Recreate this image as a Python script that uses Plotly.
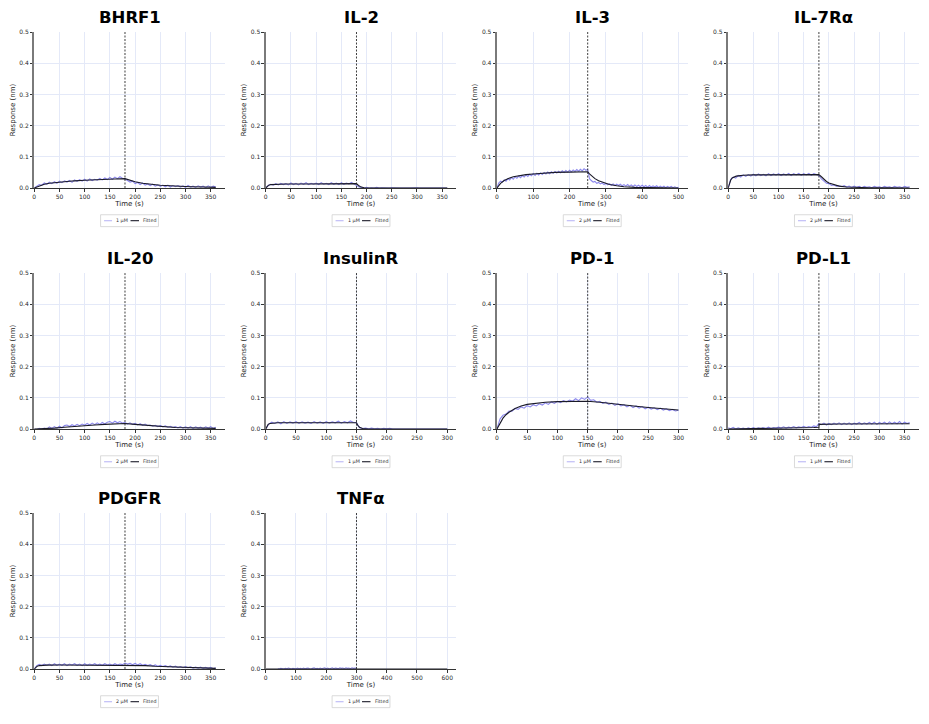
import numpy as np
import plotly.graph_objects as go

# ---------------- data ----------------
names = ["BHRF1", "IL-2", "IL-3", "IL-7Rα", "IL-20", "InsulinR", "PD-1", "PD-L1", "PDGFR", "TNFα"]
conc_labels = ["1 µM", "1 µM", "2 µM", "2 µM", "2 µM", "1 µM", "1 µM", "1 µM", "2 µM", "1 µM"]
assoc_end = [180, 180, 250, 180, 180, 150, 150, 180, 180, 300]
t_end = [360, 360, 500, 360, 360, 300, 300, 360, 360, 600]
raw_start = [0, 0, 0, 0, 0, 0, 0, 0, 0, 40]
raw_stop = [360, 360, 500, 360, 360, 300, 300, 360, 360, 300]
x_dtick = [50, 50, 100, 50, 50, 50, 50, 50, 50, 100]
y_ticks = [0.0, 0.1, 0.2, 0.3, 0.4, 0.5]

raw_bhrf1 = [0.000, 0.006, 0.011, 0.009, 0.016, 0.012, 0.019, 0.014, 0.020, 0.015,
             0.022, 0.017, 0.023, 0.019, 0.024, 0.018, 0.026, 0.021, 0.027, 0.022,
             0.028, 0.022, 0.029, 0.024, 0.028, 0.025, 0.031, 0.026, 0.032, 0.027,
             0.034, 0.028, 0.035, 0.030, 0.036, 0.031,
             0.029, 0.024, 0.019, 0.022, 0.014, 0.018, 0.011, 0.016, 0.009, 0.013,
             0.008, 0.012, 0.006, 0.010, 0.005, 0.009, 0.004, 0.009, 0.003, 0.008,
             0.004, 0.008, 0.003, 0.007, 0.002, 0.008, 0.003, 0.006, 0.002, 0.007,
             0.003, 0.006, 0.001, 0.007, 0.002, 0.006, 0.003]
fit_t_bhrf1 = [0, 10, 20, 30, 40, 60, 80, 100, 120, 140, 160, 180, 190, 200, 215, 230, 250, 270, 290, 310, 335, 360]
fit_y_bhrf1 = [0, 0.007, 0.012, 0.015, 0.017, 0.020, 0.023, 0.025, 0.027, 0.028, 0.029, 0.030, 0.024,
               0.020, 0.015, 0.012, 0.009, 0.007, 0.005, 0.004, 0.003, 0.002]

raw_il2 = [0.000, 0.008, 0.012, 0.009, 0.014, 0.010, 0.015, 0.011, 0.014, 0.010,
           0.016, 0.011, 0.015, 0.010, 0.016, 0.012, 0.017, 0.011, 0.015, 0.012,
           0.016, 0.011, 0.017, 0.012, 0.015, 0.011, 0.017, 0.012, 0.016, 0.011,
           0.017, 0.012, 0.016, 0.013, 0.018, 0.013,
           0.010, 0.003, 0.002, 0.000, 0.002, 0.000, 0.001, 0.000, 0.002, 0.000,
           0.001, 0.000, 0.001, 0.000, 0.001, 0.000, 0.001, 0.000, 0.000, 0.001,
           0.000, 0.000, 0.001, 0.000, 0.001, 0.000, 0.000, 0.001, 0.000, 0.000,
           0.001, 0.000, 0.000, 0.001, 0.000, 0.001, 0.000]
fit_t_il2 = [0, 3, 6, 10, 20, 40, 80, 120, 180, 184, 188, 195, 210, 360]
fit_y_il2 = [0, 0.006, 0.009, 0.011, 0.012, 0.013, 0.013, 0.014, 0.014, 0.008, 0.004, 0.001, 0.0, 0.0]

raw_il3 = [0.000, 0.016, 0.022, 0.019, 0.026, 0.022, 0.030, 0.026, 0.033, 0.028,
           0.036, 0.031, 0.038, 0.033, 0.040, 0.035, 0.042, 0.037, 0.044, 0.039,
           0.046, 0.040, 0.047, 0.042, 0.048, 0.043, 0.050, 0.045, 0.051, 0.046,
           0.052, 0.047, 0.053, 0.048, 0.054, 0.049, 0.055, 0.050, 0.056, 0.051,
           0.057, 0.052, 0.058, 0.053, 0.059, 0.054, 0.060, 0.055, 0.062, 0.057,
           0.060, 0.030, 0.024, 0.019, 0.021, 0.015, 0.018, 0.013, 0.016, 0.011,
           0.015, 0.010, 0.014, 0.009, 0.013, 0.008, 0.012, 0.008, 0.012, 0.007,
           0.011, 0.006, 0.011, 0.006, 0.010, 0.005, 0.010, 0.005, 0.009, 0.004,
           0.009, 0.004, 0.008, 0.003, 0.008, 0.003, 0.007, 0.003, 0.007, 0.002,
           0.006, 0.002, 0.006, 0.001, 0.005, 0.002, 0.005, 0.001, 0.004, 0.001,
           0.002]
fit_t_il3 = [0, 10, 20, 30, 45, 60, 80, 100, 130, 160, 200, 250, 255, 260, 270, 280, 295, 310, 330, 350, 380, 420, 500]
fit_y_il3 = [0, 0.015, 0.024, 0.030, 0.036, 0.040, 0.043, 0.045, 0.048, 0.050, 0.051, 0.052, 0.045,
             0.039, 0.030, 0.023, 0.016, 0.011, 0.007, 0.004, 0.002, 0.001, 0.0]

raw_il7ra = [0.000, 0.028, 0.035, 0.032, 0.040, 0.035, 0.042, 0.037, 0.043, 0.038,
             0.044, 0.039, 0.045, 0.040, 0.044, 0.039, 0.046, 0.040, 0.045, 0.041,
             0.046, 0.040, 0.045, 0.041, 0.047, 0.040, 0.046, 0.042, 0.047, 0.041,
             0.046, 0.042, 0.047, 0.041, 0.046, 0.042,
             0.040, 0.029, 0.023, 0.015, 0.014, 0.008, 0.010, 0.005, 0.008, 0.004,
             0.008, 0.003, 0.006, 0.002, 0.006, 0.002, 0.005, 0.001, 0.005, 0.002,
             0.004, 0.001, 0.005, 0.002, 0.004, 0.001, 0.005, 0.002, 0.004, 0.001,
             0.005, 0.002, 0.004, 0.001, 0.005, 0.002, 0.004]
fit_t_il7ra = [0, 2, 5, 8, 12, 16, 20, 30, 50, 100, 180, 185, 190, 195, 200, 210, 220, 235, 250, 280, 320, 360]
fit_y_il7ra = [0, 0.012, 0.025, 0.032, 0.036, 0.038, 0.039, 0.041, 0.042, 0.043, 0.043, 0.036, 0.028,
               0.021, 0.016, 0.010, 0.006, 0.003, 0.002, 0.001, 0.0005, 0.0]

raw_il20 = [0.000, -0.002, 0.002, -0.001, 0.003, 0.000, 0.007, 0.002, 0.008, 0.003,
            0.009, 0.004, 0.011, 0.013, 0.008, 0.014, 0.010, 0.015, 0.011, 0.016,
            0.012, 0.018, 0.013, 0.019, 0.014, 0.020, 0.015, 0.021, 0.016, 0.022,
            0.024, 0.019, 0.025, 0.020, 0.024, 0.019,
            0.021, 0.016, 0.020, 0.015, 0.018, 0.013, 0.017, 0.012, 0.016, 0.011,
            0.013, 0.009, 0.012, 0.008, 0.011, 0.007, 0.010, 0.006, 0.009, 0.005,
            0.008, 0.004, 0.008, 0.003, 0.007, 0.003, 0.008, 0.002, 0.007, 0.003,
            0.006, 0.002, 0.007, 0.003, 0.008, 0.002, 0.006]
fit_t_il20 = [0, 20, 40, 60, 80, 100, 120, 140, 160, 180, 200, 220, 240, 260, 280, 300, 330, 360]
fit_y_il20 = [0, 0.001, 0.003, 0.006, 0.009, 0.011, 0.013, 0.015, 0.017, 0.018, 0.015, 0.012, 0.009,
              0.007, 0.005, 0.004, 0.003, 0.002]

raw_insr = [0.000, 0.016, 0.022, 0.018, 0.023, 0.017, 0.024, 0.018, 0.023, 0.019,
            0.024, 0.018, 0.023, 0.019, 0.022, 0.018, 0.024, 0.019, 0.023, 0.018,
            0.024, 0.019, 0.023, 0.020, 0.025, 0.019, 0.024, 0.020, 0.026, 0.021,
            0.020, 0.004, 0.002, 0.003, 0.001, 0.003, 0.001, 0.002, 0.000, 0.002,
            0.001, 0.002, 0.000, 0.001, 0.000, 0.000, 0.000, 0.000, 0.000, 0.000,
            0.000, 0.000, 0.000, 0.000, 0.000, 0.000, 0.000, 0.000, 0.000, 0.000,
            0.000]
fit_t_insr = [0, 2, 4, 7, 10, 20, 50, 100, 150, 152, 155, 160, 170, 300]
fit_y_insr = [0, 0.010, 0.015, 0.018, 0.019, 0.020, 0.020, 0.020, 0.020, 0.012, 0.006, 0.002, 0.0, 0.0]

raw_pd1 = [0.000, 0.032, 0.044, 0.048, 0.058, 0.057, 0.066, 0.063, 0.071, 0.067,
           0.075, 0.071, 0.078, 0.074, 0.081, 0.077, 0.084, 0.079, 0.087, 0.082,
           0.089, 0.085, 0.091, 0.087, 0.093, 0.089, 0.097, 0.091, 0.100, 0.095,
           0.103, 0.092, 0.094, 0.086, 0.089, 0.082, 0.086, 0.079, 0.083, 0.076,
           0.081, 0.074, 0.078, 0.071, 0.076, 0.069, 0.074, 0.067, 0.072, 0.065,
           0.070, 0.064, 0.068, 0.062, 0.067, 0.061, 0.065, 0.059, 0.063, 0.058,
           0.060]
fit_t_pd1 = [0, 5, 10, 15, 20, 30, 40, 50, 60, 80, 100, 120, 150, 170, 190, 210, 230, 250, 270, 300]
fit_y_pd1 = [0, 0.020, 0.035, 0.046, 0.054, 0.066, 0.074, 0.079, 0.082, 0.086, 0.088, 0.089, 0.089,
             0.086, 0.081, 0.077, 0.073, 0.069, 0.066, 0.061]

raw_pdl1 = [0.004, 0.001, 0.005, 0.000, 0.004, 0.001, 0.003, 0.000, 0.004, 0.001,
            0.005, 0.001, 0.004, 0.002, 0.005, 0.002, 0.006, 0.002, 0.005, 0.003,
            0.006, 0.003, 0.007, 0.003, 0.006, 0.004, 0.008, 0.004, 0.007, 0.005,
            0.009, 0.005, 0.008, 0.006, 0.010, 0.007,
            0.018, 0.014, 0.019, 0.013, 0.018, 0.014, 0.019, 0.015, 0.020, 0.014,
            0.019, 0.015, 0.020, 0.014, 0.019, 0.016, 0.021, 0.015, 0.020, 0.016,
            0.021, 0.016, 0.022, 0.015, 0.021, 0.017, 0.022, 0.016, 0.023, 0.017,
            0.022, 0.017, 0.024, 0.016, 0.022, 0.018, 0.021]
fit_t_pdl1 = [0, 50, 100, 130, 150, 170, 180, 180.5, 220, 280, 360]
fit_y_pdl1 = [0, 0.001, 0.002, 0.003, 0.004, 0.005, 0.006, 0.015, 0.016, 0.016, 0.017]

raw_pdgfr = [0.000, 0.011, 0.015, 0.011, 0.016, 0.012, 0.016, 0.011, 0.017, 0.012,
             0.016, 0.012, 0.017, 0.011, 0.016, 0.013, 0.017, 0.012, 0.016, 0.011,
             0.017, 0.012, 0.016, 0.013, 0.017, 0.012, 0.016, 0.012, 0.017, 0.013,
             0.016, 0.012, 0.017, 0.013, 0.016, 0.014,
             0.019, 0.015, 0.018, 0.014, 0.018, 0.013, 0.017, 0.012, 0.015, 0.011,
             0.014, 0.010, 0.013, 0.009, 0.012, 0.008, 0.011, 0.007, 0.010, 0.006,
             0.009, 0.005, 0.008, 0.004, 0.008, 0.004, 0.007, 0.003, 0.006, 0.003,
             0.006, 0.002, 0.005, 0.002, 0.005, 0.001, 0.004]
fit_t_pdgfr = [0, 3, 6, 10, 15, 25, 50, 100, 180, 200, 220, 240, 260, 280, 300, 320, 340, 360]
fit_y_pdgfr = [0, 0.006, 0.009, 0.011, 0.012, 0.0125, 0.013, 0.013, 0.013, 0.012, 0.011, 0.009, 0.008,
               0.006, 0.005, 0.004, 0.003, 0.002]

raw_tnfa = [0.001, 0.000, 0.002, 0.001, 0.000, 0.002, 0.001, 0.003, 0.001, 0.000,
            0.002, 0.001, 0.000, 0.003, 0.001, 0.002, 0.000, 0.003, 0.001, 0.002,
            0.003, 0.001, 0.000, 0.002, 0.004, 0.001, 0.002, 0.000, 0.003, 0.001,
            0.002, 0.004, 0.001, 0.003, 0.000, 0.002, 0.004, 0.001, 0.003, 0.002,
            0.001, 0.004, 0.002, 0.003, 0.001, 0.004, 0.002, 0.003, 0.001, 0.004,
            0.002, 0.003, 0.002]
fit_t_tnfa = [0, 600]
fit_y_tnfa = [0.0, 0.0]

raw_values = [raw_bhrf1, raw_il2, raw_il3, raw_il7ra, raw_il20, raw_insr, raw_pd1, raw_pdl1, raw_pdgfr, raw_tnfa]
fit_times = [fit_t_bhrf1, fit_t_il2, fit_t_il3, fit_t_il7ra, fit_t_il20, fit_t_insr, fit_t_pd1, fit_t_pdl1,
             fit_t_pdgfr, fit_t_tnfa]
fit_values = [fit_y_bhrf1, fit_y_il2, fit_y_il3, fit_y_il7ra, fit_y_il20, fit_y_insr, fit_y_pd1, fit_y_pdl1,
              fit_y_pdgfr, fit_y_tnfa]

# ---------------- layout geometry ----------------
W, H = 929, 724
col_left = [32.3, 264.3, 496.0, 727.7]
row_top = [28.3, 271.7, 514.0]
pw, ph = 191.0, 157.5

FONT = "DejaVu Sans"
RAW_COLOR = "rgba(95,90,230,0.72)"
RAW_LEGEND = "rgba(150,145,240,0.6)"
FIT_COLOR = "#1a1a28"
GRID = "#E4E9F8"
AXIS = "#333333"


def px(x):
    return x / W


def py(y):
    return 1 - y / H


fig = go.Figure()
annotations = []
shapes = []
layout = {}

for i, name in enumerate(names):
    r, c = divmod(i, 4)
    sfx = "" if i == 0 else str(i + 1)
    xref, yref = "x" + sfx, "y" + sfx
    x0 = px(col_left[c])
    x1 = px(col_left[c] + pw)
    y1 = py(row_top[r])
    y0 = py(row_top[r] + ph)

    t_raw = np.linspace(raw_start[i], raw_stop[i], len(raw_values[i]))
    fig.add_trace(go.Scatter(x=t_raw, y=raw_values[i], mode="lines", name=conc_labels[i],
                             line=dict(color=RAW_COLOR, width=1.1), xaxis=xref, yaxis=yref,
                             showlegend=False))
    fig.add_trace(go.Scatter(x=fit_times[i], y=fit_values[i], mode="lines", name="Fitted",
                             line=dict(color=FIT_COLOR, width=1.1), xaxis=xref, yaxis=yref,
                             showlegend=False))

    layout["xaxis" + sfx] = dict(
        domain=[x0, x1], anchor=yref, range=[0, t_end[i] * 1.05], dtick=x_dtick[i], tick0=0,
        showgrid=True, gridcolor=GRID, gridwidth=1, zeroline=False,
        showline=True, linecolor=AXIS, linewidth=1.2, ticks="outside", ticklen=2.5,
        tickcolor=AXIS, tickwidth=0.8, tickfont=dict(family=FONT, size=6, color="#2a2a2a"),
        title=dict(text="Time (s)", font=dict(family=FONT, size=7, color="#1a1a1a"), standoff=2),
    )
    layout["yaxis" + sfx] = dict(
        domain=[y0, y1], anchor=xref, range=[0, 0.5], tickvals=y_ticks, tickformat=".1f",
        showgrid=True, gridcolor=GRID, gridwidth=1, zeroline=False,
        showline=True, linecolor="#7a7a7a", linewidth=1.6, ticks="outside", ticklen=2.5,
        tickcolor=AXIS, tickwidth=0.8, tickfont=dict(family=FONT, size=6, color="#2a2a2a"),
        title=dict(text="Response (nm)", font=dict(family=FONT, size=7, color="#1a1a1a"), standoff=3),
    )
    annotations.append(dict(
        text="<b>" + name + "</b>", x=(x0 + x1) / 2, y=py(row_top[r] - 15),
        xref="paper", yref="paper", xanchor="center", yanchor="middle", showarrow=False,
        font=dict(family=FONT, size=16.5, color="black"),
    ))
    shapes.append(dict(
        type="line", xref=xref, yref=yref + " domain", x0=assoc_end[i], x1=assoc_end[i], y0=0, y1=1,
        line=dict(color="#2a2a2a", width=0.9, dash="2px,1.5px"), layer="above",
    ))

    # legend box (styled like the reference's small framed legend)
    cx = col_left[c] + pw / 2
    cy = row_top[r] + ph + 33
    bl = cx - 29
    shapes.append(dict(type="rect", xref="paper", yref="paper", x0=px(bl), x1=px(bl + 58),
                       y0=py(cy + 6), y1=py(cy - 6), line=dict(color="#d0d0d0", width=0.8),
                       fillcolor="white", layer="above"))
    shapes.append(dict(type="line", xref="paper", yref="paper", x0=px(bl + 3.5), x1=px(bl + 11.5),
                       y0=py(cy), y1=py(cy), line=dict(color=RAW_LEGEND, width=1.2)))
    shapes.append(dict(type="line", xref="paper", yref="paper", x0=px(bl + 30), x1=px(bl + 38.5),
                       y0=py(cy), y1=py(cy), line=dict(color=FIT_COLOR, width=1.1)))
    annotations.append(dict(text=conc_labels[i], x=px(bl + 13.5), y=py(cy), xref="paper", yref="paper",
                            xanchor="left", yanchor="middle", showarrow=False,
                            font=dict(family=FONT, size=4.8, color="#333")))
    annotations.append(dict(text="Fitted", x=px(bl + 41), y=py(cy), xref="paper", yref="paper",
                            xanchor="left", yanchor="middle", showarrow=False,
                            font=dict(family=FONT, size=4.8, color="#333")))

fig.update_layout(
    width=W, height=H, margin=dict(l=0, r=0, t=0, b=0),
    paper_bgcolor="white", plot_bgcolor="white", showlegend=False,
    annotations=annotations, shapes=shapes,
    font=dict(family=FONT), **layout,
)

fig.write_html("out.html")
